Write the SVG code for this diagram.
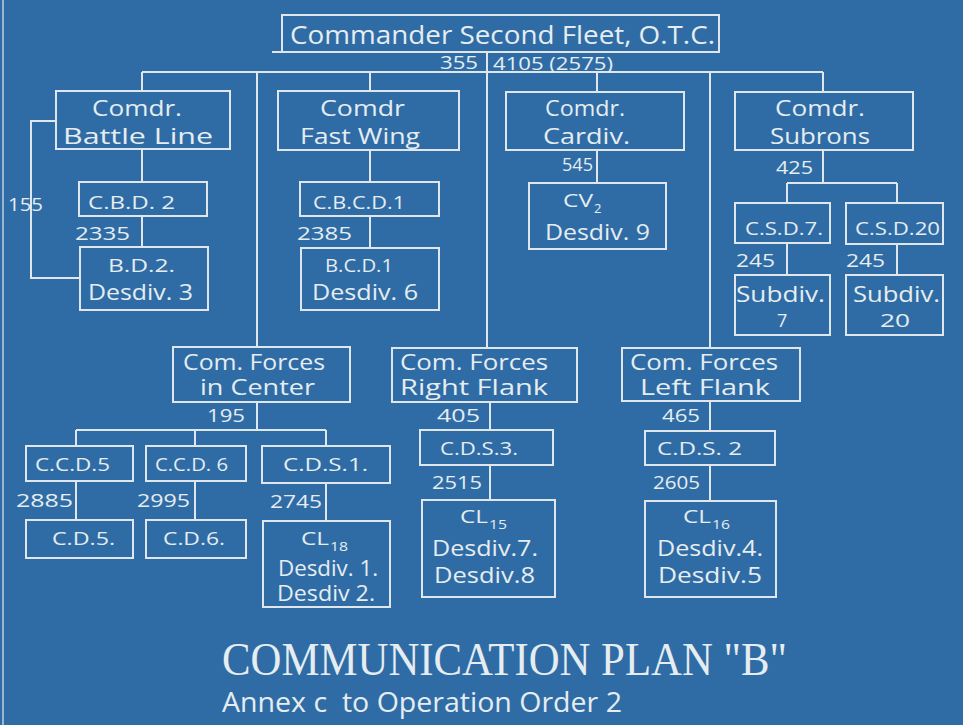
<svg xmlns="http://www.w3.org/2000/svg" width="963" height="725" viewBox="0 0 963 725">
<style>
.bg{fill:#2f6ca6}
.box{fill:none;stroke:#dfe7ec;stroke-width:2}
.ln{fill:none;stroke:#dfe7ec;stroke-width:2}
text{fill:#e6edf0;font-family:"Open Sans","DejaVu Sans",sans-serif}
.t{font-size:22px}
.s{font-size:18px}
.n{font-size:18px}
.sub{font-size:13px}
.title{font-family:"Liberation Serif","DejaVu Serif",serif;font-size:46px}
.annex{font-size:28px}
</style>
<rect class="bg" x="0" y="0" width="963" height="725"/>
<line class="ln" x1="3" y1="0" x2="3" y2="725" stroke-opacity="0.6"/>
<g id="connectors">
<path class="ln" d="M272,52H282"/>
<path class="ln" d="M487,52V348"/>
<path class="ln" d="M142,72H823"/>
<path class="ln" d="M142,72V91M257,72V347M370,72V91M597,72V92M710,72V348M823,72V92"/>
<path class="ln" d="M142,149V182M142,216V247M56,121H31V278H80"/>
<path class="ln" d="M370,150V182M370,216V248"/>
<path class="ln" d="M597,150V183"/>
<path class="ln" d="M823,150V183M787,183H897M787,183V203M897,183V203M787,243V275M897,244V275"/>
<path class="ln" d="M257,402V430M76,430H326M76,430V446M195,430V446M326,430V446M76,481V520M195,481V520M326,483V521"/>
<path class="ln" d="M490,402V430M490,465V500"/>
<path class="ln" d="M710,401V431M710,465V501"/>
</g>
<g id="labels">
<text class="n" x="440" y="69" textLength="38" lengthAdjust="spacingAndGlyphs">355</text>
<text class="n" x="493" y="70" textLength="120" lengthAdjust="spacingAndGlyphs">4105 (2575)</text>
<text class="n" x="8" y="211" textLength="35" lengthAdjust="spacingAndGlyphs">155</text>
<text class="n" x="75" y="240" textLength="55" lengthAdjust="spacingAndGlyphs">2335</text>
<text class="n" x="297" y="240" textLength="55" lengthAdjust="spacingAndGlyphs">2385</text>
<text class="n" x="562" y="171" textLength="31" lengthAdjust="spacingAndGlyphs">545</text>
<text class="n" x="776" y="174" textLength="37" lengthAdjust="spacingAndGlyphs">425</text>
<text class="n" x="736" y="267" textLength="39" lengthAdjust="spacingAndGlyphs">245</text>
<text class="n" x="846" y="267" textLength="39" lengthAdjust="spacingAndGlyphs">245</text>
<text class="n" x="207" y="422" textLength="38" lengthAdjust="spacingAndGlyphs">195</text>
<text class="n" x="16" y="507" textLength="57" lengthAdjust="spacingAndGlyphs">2885</text>
<text class="n" x="137" y="507" textLength="53" lengthAdjust="spacingAndGlyphs">2995</text>
<text class="n" x="270" y="508" textLength="52" lengthAdjust="spacingAndGlyphs">2745</text>
<text class="n" x="437" y="422" textLength="43" lengthAdjust="spacingAndGlyphs">405</text>
<text class="n" x="432" y="489" textLength="50" lengthAdjust="spacingAndGlyphs">2515</text>
<text class="n" x="662" y="422" textLength="38" lengthAdjust="spacingAndGlyphs">465</text>
<text class="n" x="653" y="489" textLength="47" lengthAdjust="spacingAndGlyphs">2605</text>
</g>
<g id="n-commander">
<rect class="box" x="282" y="15" width="437" height="37"/>
<text class="t" x="290" y="44" textLength="425" lengthAdjust="spacingAndGlyphs" style="font-size:25px">Commander Second Fleet, O.T.C.</text>
</g>
<g id="n-battle-line">
<rect class="box" x="56" y="91" width="174" height="58"/>
<text class="t" x="92" y="116" textLength="90" lengthAdjust="spacingAndGlyphs">Comdr.</text>
<text class="t" x="63" y="144" textLength="150" lengthAdjust="spacingAndGlyphs">Battle Line</text>
</g>
<g id="n-fast-wing">
<rect class="box" x="278" y="91" width="181" height="59"/>
<text class="t" x="320" y="116" textLength="85" lengthAdjust="spacingAndGlyphs">Comdr</text>
<text class="t" x="300" y="144" textLength="120" lengthAdjust="spacingAndGlyphs">Fast Wing</text>
</g>
<g id="n-cardiv">
<rect class="box" x="506" y="92" width="178" height="58"/>
<text class="t" x="545" y="116" textLength="80" lengthAdjust="spacingAndGlyphs">Comdr.</text>
<text class="t" x="543" y="144" textLength="87" lengthAdjust="spacingAndGlyphs">Cardiv.</text>
</g>
<g id="n-subrons">
<rect class="box" x="735" y="92" width="178" height="58"/>
<text class="t" x="775" y="116" textLength="90" lengthAdjust="spacingAndGlyphs">Comdr.</text>
<text class="t" x="770" y="144" textLength="100" lengthAdjust="spacingAndGlyphs">Subrons</text>
</g>
<g id="n-cbd2">
<rect class="box" x="79" y="182" width="128" height="34"/>
<text class="s" x="88" y="209" textLength="87" lengthAdjust="spacingAndGlyphs">C.B.D. 2</text>
</g>
<g id="n-bd2">
<rect class="box" x="80" y="247" width="128" height="63"/>
<text class="s" x="108" y="272" textLength="67" lengthAdjust="spacingAndGlyphs">B.D.2.</text>
<text class="t" x="88" y="300" textLength="105" lengthAdjust="spacingAndGlyphs">Desdiv. 3</text>
</g>
<g id="n-cbcd1">
<rect class="box" x="300" y="182" width="139" height="34"/>
<text class="s" x="313" y="209" textLength="92" lengthAdjust="spacingAndGlyphs">C.B.C.D.1</text>
</g>
<g id="n-bcd1">
<rect class="box" x="301" y="248" width="138" height="62"/>
<text class="s" x="325" y="272" textLength="68" lengthAdjust="spacingAndGlyphs">B.C.D.1</text>
<text class="t" x="312" y="300" textLength="106" lengthAdjust="spacingAndGlyphs">Desdiv. 6</text>
</g>
<g id="n-cv2">
<rect class="box" x="529" y="183" width="137" height="66"/>
<text class="s" x="563" y="207" textLength="30" lengthAdjust="spacingAndGlyphs">CV</text>
<text class="sub" x="594" y="213">2</text>
<text class="t" x="545" y="240" textLength="105" lengthAdjust="spacingAndGlyphs">Desdiv. 9</text>
</g>
<g id="n-csd7">
<rect class="box" x="735" y="203" width="95" height="40"/>
<text class="s" x="745" y="235" textLength="78" lengthAdjust="spacingAndGlyphs">C.S.D.7.</text>
</g>
<g id="n-csd20">
<rect class="box" x="846" y="203" width="97" height="41"/>
<text class="s" x="855" y="235" textLength="85" lengthAdjust="spacingAndGlyphs">C.S.D.20</text>
</g>
<g id="n-subdiv7">
<rect class="box" x="735" y="275" width="95" height="60"/>
<text class="t" x="736" y="302" textLength="89" lengthAdjust="spacingAndGlyphs">Subdiv.</text>
<text class="s" x="777" y="327">7</text>
</g>
<g id="n-subdiv20">
<rect class="box" x="846" y="275" width="97" height="60"/>
<text class="t" x="853" y="302" textLength="87" lengthAdjust="spacingAndGlyphs">Subdiv.</text>
<text class="s" x="880" y="327" textLength="30" lengthAdjust="spacingAndGlyphs">20</text>
</g>
<g id="n-center">
<rect class="box" x="173" y="347" width="177" height="55"/>
<text class="t" x="183" y="370" textLength="142" lengthAdjust="spacingAndGlyphs">Com. Forces</text>
<text class="t" x="200" y="395" textLength="115" lengthAdjust="spacingAndGlyphs">in Center</text>
</g>
<g id="n-ccd5">
<rect class="box" x="26" y="446" width="107" height="35"/>
<text class="s" x="35" y="471" textLength="75" lengthAdjust="spacingAndGlyphs">C.C.D.5</text>
</g>
<g id="n-ccd6">
<rect class="box" x="146" y="446" width="100" height="35"/>
<text class="s" x="155" y="471" textLength="73" lengthAdjust="spacingAndGlyphs">C.C.D. 6</text>
</g>
<g id="n-cds1">
<rect class="box" x="262" y="446" width="128" height="37"/>
<text class="s" x="283" y="471" textLength="85" lengthAdjust="spacingAndGlyphs">C.D.S.1.</text>
</g>
<g id="n-cd5">
<rect class="box" x="26" y="520" width="107" height="38"/>
<text class="s" x="52" y="545" textLength="63" lengthAdjust="spacingAndGlyphs">C.D.5.</text>
</g>
<g id="n-cd6">
<rect class="box" x="146" y="520" width="100" height="38"/>
<text class="s" x="163" y="545" textLength="62" lengthAdjust="spacingAndGlyphs">C.D.6.</text>
</g>
<g id="n-cl18">
<rect class="box" x="263" y="521" width="127" height="86"/>
<text class="s" x="301" y="545" textLength="28" lengthAdjust="spacingAndGlyphs">CL</text>
<text class="sub" x="330" y="551" textLength="18" lengthAdjust="spacingAndGlyphs">18</text>
<text class="t" x="278" y="576" textLength="100" lengthAdjust="spacingAndGlyphs">Desdiv. 1.</text>
<text class="t" x="277" y="601" textLength="98" lengthAdjust="spacingAndGlyphs">Desdiv 2.</text>
</g>
<g id="n-right-flank">
<rect class="box" x="392" y="348" width="185" height="54"/>
<text class="t" x="400" y="370" textLength="148" lengthAdjust="spacingAndGlyphs">Com. Forces</text>
<text class="t" x="400" y="395" textLength="148" lengthAdjust="spacingAndGlyphs">Right Flank</text>
</g>
<g id="n-cds3">
<rect class="box" x="420" y="430" width="133" height="35"/>
<text class="s" x="440" y="455" textLength="78" lengthAdjust="spacingAndGlyphs">C.D.S.3.</text>
</g>
<g id="n-cl15">
<rect class="box" x="422" y="500" width="133" height="97"/>
<text class="s" x="460" y="523" textLength="28" lengthAdjust="spacingAndGlyphs">CL</text>
<text class="sub" x="489" y="529" textLength="18" lengthAdjust="spacingAndGlyphs">15</text>
<text class="t" x="432" y="556" textLength="106" lengthAdjust="spacingAndGlyphs">Desdiv.7.</text>
<text class="t" x="434" y="583" textLength="101" lengthAdjust="spacingAndGlyphs">Desdiv.8</text>
</g>
<g id="n-left-flank">
<rect class="box" x="622" y="348" width="178" height="53"/>
<text class="t" x="630" y="370" textLength="148" lengthAdjust="spacingAndGlyphs">Com. Forces</text>
<text class="t" x="640" y="395" textLength="130" lengthAdjust="spacingAndGlyphs">Left Flank</text>
</g>
<g id="n-cds2">
<rect class="box" x="645" y="431" width="130" height="34"/>
<text class="s" x="657" y="455" textLength="85" lengthAdjust="spacingAndGlyphs">C.D.S. 2</text>
</g>
<g id="n-cl16">
<rect class="box" x="645" y="501" width="131" height="96"/>
<text class="s" x="683" y="523" textLength="28" lengthAdjust="spacingAndGlyphs">CL</text>
<text class="sub" x="712" y="529" textLength="18" lengthAdjust="spacingAndGlyphs">16</text>
<text class="t" x="657" y="556" textLength="106" lengthAdjust="spacingAndGlyphs">Desdiv.4.</text>
<text class="t" x="658" y="583" textLength="104" lengthAdjust="spacingAndGlyphs">Desdiv.5</text>
</g>
<g id="title">
<text class="title" x="222" y="675" textLength="565" lengthAdjust="spacingAndGlyphs">COMMUNICATION PLAN "B"</text>
<text class="annex" x="222" y="712" textLength="400" lengthAdjust="spacingAndGlyphs" xml:space="preserve">Annex c  to Operation Order 2</text>
</g>
</svg>
